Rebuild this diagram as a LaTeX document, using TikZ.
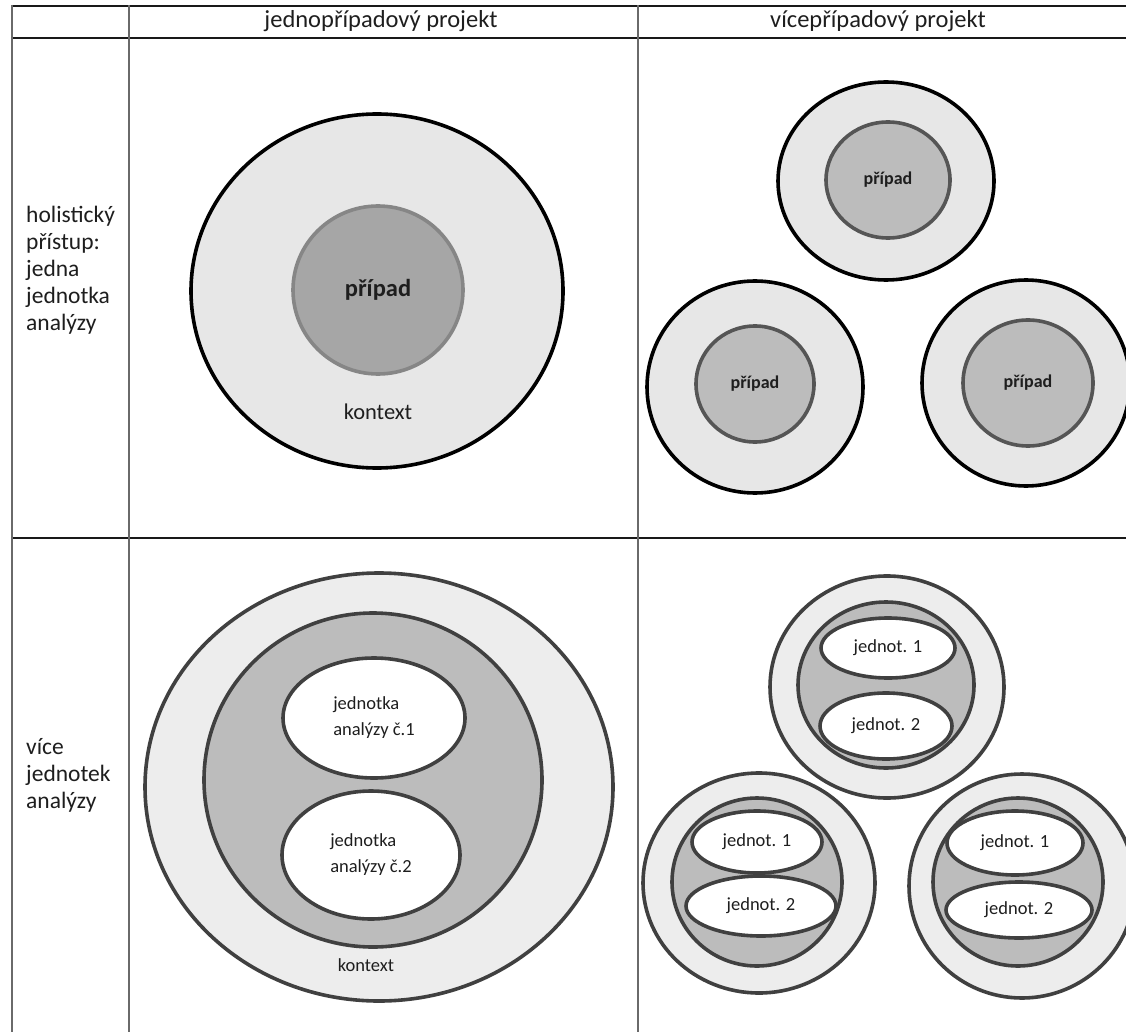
\documentclass[tikz,border=0pt]{standalone}
\usepackage{fontspec}
\setmainfont{Carlito}
\usetikzlibrary{shapes.geometric}

\definecolor{ctxlight}{HTML}{E7E7E7}
\definecolor{ctxpale}{HTML}{EDEDED}
\definecolor{casedark}{HTML}{A6A6A6}
\definecolor{casemid}{HTML}{BCBCBC}
\definecolor{rimgray}{HTML}{555555}
\definecolor{rimdark}{HTML}{404040}
\definecolor{gridgray}{HTML}{6A6A6A}
\definecolor{inkgray}{HTML}{1E1E1E}

\begin{document}
\begin{tikzpicture}[x=1pt,y=-1pt,text=inkgray,
    ctx/.style={ellipse,draw=black,line width=3.6pt,fill=ctxlight,inner sep=0pt},
    casebig/.style={ellipse,draw=gray!95,line width=3.6pt,fill=casedark,inner sep=0pt,
        font=\fontsize{24.5}{28}\selectfont\bfseries},
    casesmall/.style={ellipse,draw=rimgray,line width=3.6pt,fill=casemid,inner sep=0pt,
        font=\fontsize{18}{22}\selectfont\bfseries},
    ring/.style={ellipse,draw=rimdark,line width=3.6pt,fill=ctxpale,inner sep=0pt},
    core/.style={ellipse,draw=rimdark,line width=3.6pt,fill=casemid,inner sep=0pt},
    unit/.style={ellipse,draw=rimdark,line width=3.6pt,fill=white,inner sep=0pt,
        align=left,font=\fontsize{18.5}{26}\selectfont},
    head/.style={font=\fontsize{24.5}{28}\selectfont,inner sep=0pt},
    rowhead/.style={font=\fontsize{23.5}{27}\selectfont,align=left,anchor=north west,inner sep=0pt},
    note/.style={inner sep=0pt},
    hline/.style={line width=2pt,draw=black!90},
    vline/.style={line width=2pt,draw=gridgray}]
    \useasboundingbox [fill=white] (0,0) rectangle (1126,1032);

    \draw [hline] (12,6) -- (1126,6);
    \draw [hline] (12,38.5) -- (1126,38.5);
    \draw [hline] (12,538) -- (1126,538);
    \draw [vline] (12,5) -- (12,1032);
    \draw [vline] (129,5) -- (129,1032);
    \draw [vline] (638,5) -- (638,1032);

    \path (381,21) node [head] (single) {jednopřípadový projekt};
    \path (878,21) node [head] (multi) {vícepřípadový projekt};
    \path (26,206) node [rowhead] (holistic)
	{holistický\\přístup:\\jedna\\jednotka\\analýzy};
    \path (26,738) node [rowhead] (embedded)
	{více\\jednotek\\analýzy};

    \path (377,291) node [ctx,minimum width=372pt,minimum height=354pt] (ctxA) {};
    \path (378,290) node [casebig,minimum width=170pt,minimum height=168pt] (caseA) {případ};
    \path (378,412) node [note,font=\fontsize{22.5}{26}\selectfont] (ctxAlabel) {kontext};

    \path (886,181) node [ctx,minimum width=216pt,minimum height=198pt] (ctxB) {};
    \path (888,180) node [casesmall,minimum width=124pt,minimum height=116pt] (caseB) {případ};
    \path (755,387) node [ctx,minimum width=216pt,minimum height=212pt] (ctxC) {};
    \path (755,384) node [casesmall,minimum width=118pt,minimum height=116pt] (caseC) {případ};
    \path (1026,383) node [ctx,minimum width=208pt,minimum height=206pt] (ctxD) {};
    \path (1028,383) node [casesmall,minimum width=130pt,minimum height=126pt] (caseD) {případ};

    \path (379,787) node [ring,minimum width=468pt,minimum height=428pt] (ringA) {};
    \path (373,780) node [core,minimum width=338pt,minimum height=334pt] (coreA) {};
    \path (374,718) node [unit,minimum width=182pt,minimum height=120pt] (unitAone)
	{jednotka\\analýzy č.1};
    \path (371,855) node [unit,minimum width=178pt,minimum height=128pt] (unitAtwo)
	{jednotka\\analýzy č.2};
    \path (366,965) node [note,font=\fontsize{18.5}{22}\selectfont] (ringAlabel) {kontext};

    \path (887,687) node [ring,minimum width=234pt,minimum height=222pt] (ringB) {};
    \path (886,685) node [core,minimum width=176pt,minimum height=166pt] (coreB) {};
    \path (888,648) node [unit,minimum width=134pt,minimum height=60pt] (unitBone) {jednot. 1};
    \path (886,726) node [unit,minimum width=132pt,minimum height=66pt] (unitBtwo) {jednot. 2};

    \path (759,883) node [ring,minimum width=232pt,minimum height=220pt] (ringC) {};
    \path (757,882) node [core,minimum width=170pt,minimum height=168pt] (coreC) {};
    \path (757,842) node [unit,minimum width=130pt,minimum height=62pt] (unitCone) {jednot. 1};
    \path (761,906) node [unit,minimum width=150pt,minimum height=60pt] (unitCtwo) {jednot. 2};

    \path (1022,886) node [ring,minimum width=226pt,minimum height=224pt] (ringD) {};
    \path (1018,882) node [core,minimum width=170pt,minimum height=168pt] (coreD) {};
    \path (1015,843) node [unit,minimum width=136pt,minimum height=64pt] (unitDone) {jednot. 1};
    \path (1019,910) node [unit,minimum width=146pt,minimum height=56pt] (unitDtwo) {jednot. 2};
\end{tikzpicture}
\end{document}
